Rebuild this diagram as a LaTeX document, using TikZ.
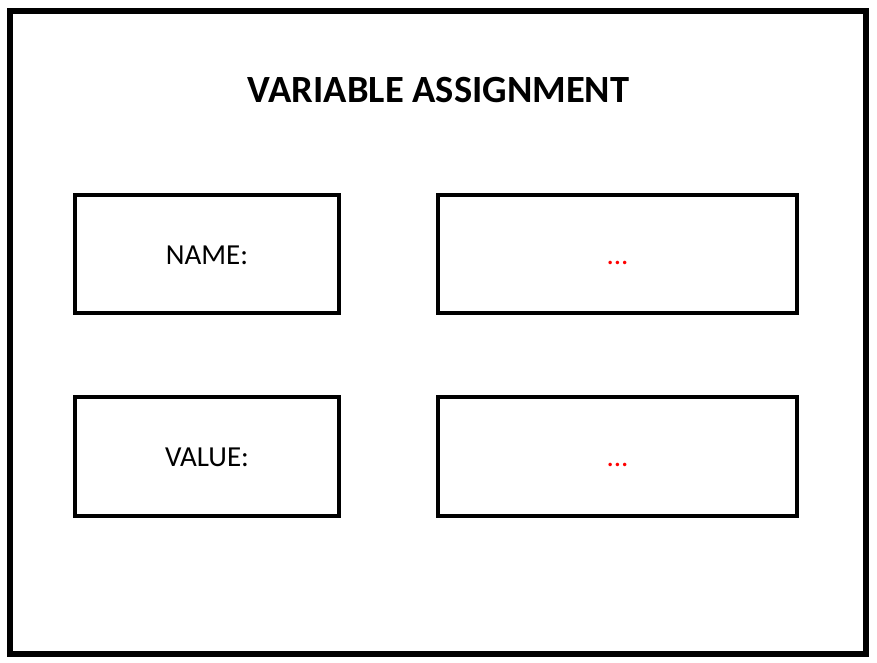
\documentclass[tikz,border=0pt]{standalone}
\usepackage{fontspec}
\setmainfont{Carlito}
\begin{document}
\begin{tikzpicture}[x=1pt,y=-1pt,
  frame/.style={draw=black,line width=6pt},
  cell/.style={draw=black,line width=3.3pt},
  lbl/.style={font=\fontsize{29}{34}\selectfont,text=black,anchor=base,inner sep=0pt},
  dots/.style={font=\fontsize{29}{34}\selectfont,text=red,anchor=base,inner sep=0pt}]
\useasboundingbox (0,0) rectangle (877,662);
\fill[white] (0,0) rectangle (877,662);
\draw[frame] (10,11) rectangle (866,654);
\node[font=\bfseries\fontsize{38.5}{44}\selectfont,anchor=base,inner sep=0pt] (title) at (438.5,102) {VARIABLE ASSIGNMENT};
\draw[cell] (75,195) rectangle (339,313);
\node[lbl] (name) at (207,264) {NAME:};
\draw[cell] (438,195) rectangle (797,313);
\node[dots] (namev) at (617.5,264) {...};
\draw[cell] (75,397) rectangle (339,516);
\node[lbl] (value) at (207,466) {VALUE:};
\draw[cell] (438,397) rectangle (797,516);
\node[dots] (valuev) at (617.5,466) {...};
\end{tikzpicture}
\end{document}
